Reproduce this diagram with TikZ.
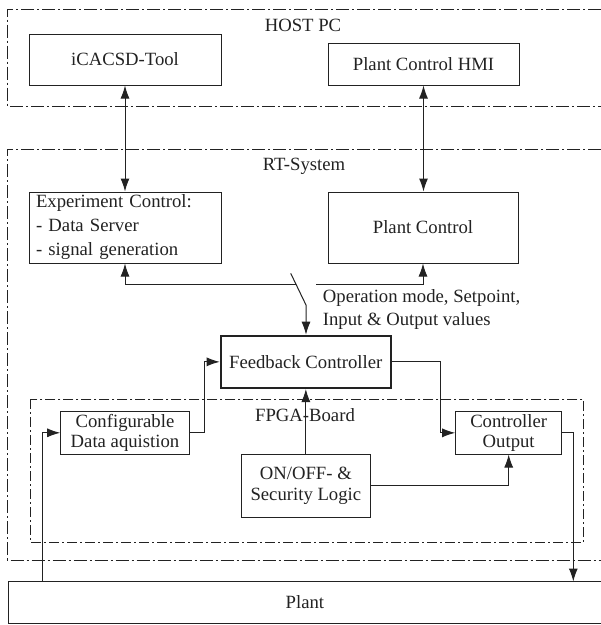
\documentclass[tikz,border=0pt]{standalone}
\usepackage{fontspec}
\setmainfont{Liberation Serif}
\usetikzlibrary{arrows.meta}
\definecolor{ink}{HTML}{222222}
\tikzset{
  lbl/.style={font=\fontsize{18.7}{22}\selectfont, text=ink, inner sep=0pt},
  box/.style={lbl, draw=ink, line width=1pt, align=center},
  thickbox/.style={box, line width=2pt},
  frame/.style={draw=ink, line width=1pt, dash pattern=on 13pt off 3pt on 2pt off 3pt},
  frameb/.style={draw=ink, line width=0.8pt, dash pattern=on 10pt off 3pt on 2pt off 3pt},
  conn/.style={draw=ink, line width=1pt},
  arr/.style={conn, -{Latex[length=13pt,width=9pt]}},
  arrtwo/.style={conn, {Latex[length=13pt,width=9pt]}-{Latex[length=13pt,width=9pt]}}
}
\begin{document}
\begin{tikzpicture}[x=1pt,y=-1pt]
\useasboundingbox (0,0) rectangle (601,625);
% container frames (open to the right)
\draw[frame] (601,9.3) -- (7.3,9.3) -- (7.3,106) -- (601,106);
\draw[frame] (601,149) -- (7.3,149) -- (7.3,560) -- (601,560);
\draw[frameb] (30.7,399) rectangle (583.3,542.7);
\node[lbl] (hostlbl) at (303,25) {HOST PC};
\node[lbl] (rtlbl) at (304,166) {RT-System};
\node[lbl] (fpgalbl) at (305,415) {FPGA-Board};
% nodes
\node[box, minimum width=192pt, minimum height=51pt] (tool) at (125,59.5) {iCACSD-Tool};
\node[box, minimum width=191pt, minimum height=42pt] (hmi) at (423.5,64) {Plant Control HMI};
\node[box, font=\fontsize{18.7}{24}\selectfont, align=left, text width=178pt, inner xsep=7pt, minimum height=71pt] (exp) at (125,227.5) {Experiment Control:\\- Data Server\\- signal generation};
\node[box, minimum width=190pt, minimum height=71pt] (pc) at (423,227.5) {Plant Control};
\node[thickbox, minimum width=170pt, minimum height=52.3pt] (fc) at (305.7,361.85) {Feedback Controller};
\node[box, font=\fontsize{18.7}{20}\selectfont, minimum width=128.6pt, minimum height=42.4pt] (cfg) at (125,432.8) {Configurable\\Data aquistion};
\node[box, font=\fontsize{18.7}{20}\selectfont, minimum width=106pt, minimum height=42.3pt] (co) at (508.7,432.85) {Controller\\Output};
\node[box, font=\fontsize{18.7}{20.6}\selectfont, minimum width=128.3pt, minimum height=63.7pt] (onoff) at (305.85,485.85) {ON/OFF- \&\\Security Logic};
\node[lbl, minimum width=593.2pt, minimum height=41.6pt] (plant) at (304.9,602.5) {Plant};
\draw[conn] (601,0 |- plant.north) -- (plant.north west) -- (plant.south west) -- (601,0 |- plant.south);
\node[lbl, font=\fontsize{18.7}{22.7}\selectfont, anchor=west, align=left] (oplbl) at (322.7,309.3) {Operation mode, Setpoint,\\Input \& Output values};
% connectors
\draw[arrtwo] (tool.south) -- (exp.north);
\draw[arrtwo] (hmi.south) -- (hmi.south |- pc.north);
\coordinate (busL) at (296,284);
\coordinate (busR) at (316,284);
\draw[arr] (busL) -- (exp.south |- busL) -- (exp.south);
\draw[arr] (busR) -- (pc.south |- busR) -- (pc.south);
\coordinate (sw) at (290.7,273.3);
\coordinate (swk) at (306,305);
\draw[arr] (sw) -- (swk) -- (swk |- fc.north);
\draw[arr] (onoff.north) -- (onoff.north |- fc.south);
\draw[arr] (cfg.east) -- (204.5,0 |- cfg.east) -- (204.5,0 |- fc.west) -- (fc.west);
\draw[arr] (fc.east) -- (440,0 |- fc.east) -- (440,0 |- co.west) -- (co.west);
\draw[arr] (co.east) -- (573.3,0 |- co.east) -- (573.3,0 |- plant.north);
\draw[arr] (onoff.east) -- (co.south |- onoff.east) -- (co.south);
\draw[arr] (42.7,0 |- plant.north) -- (42.7,0 |- cfg.west) -- (cfg.west);
\end{tikzpicture}
\end{document}
